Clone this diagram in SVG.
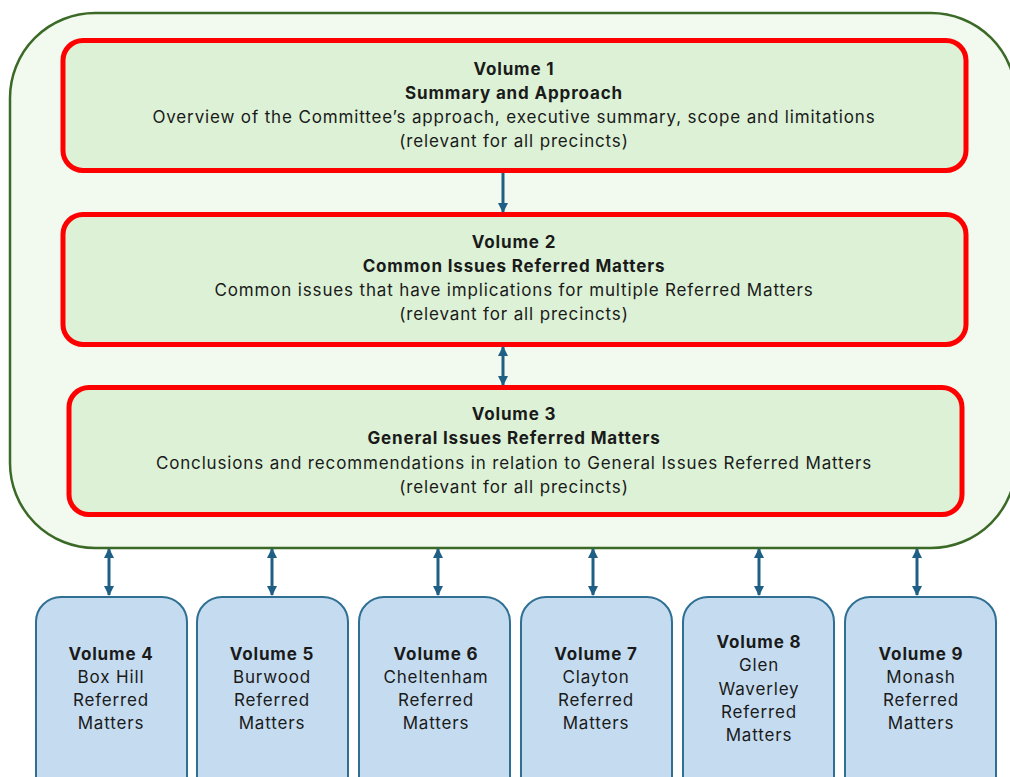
<svg xmlns="http://www.w3.org/2000/svg" width="1010" height="777" viewBox="0 0 1010 777">
<defs>
<style>
.outer{fill:#f2f9ee;stroke:#3b6a27;stroke-width:2.5}
.vol{fill:#dcf1d6;stroke:#ff0000;stroke-width:5}
.sub{fill:#c5dcf0;stroke:#2e6f93;stroke-width:2}
.t{font-family:Inter,"Liberation Sans",sans-serif;font-size:17px;letter-spacing:0.85px;fill:#1a1a1a;text-anchor:middle}
.b{font-weight:bold}
.c{stroke:#1f5f85;stroke-width:3;fill:none}
</style>
<marker id="ah" viewBox="0 0 10 10" refX="9" refY="5" markerWidth="10" markerHeight="10" markerUnits="userSpaceOnUse" orient="auto-start-reverse">
<path d="M0,0 L10,5 L0,10 z" fill="#1f5f85"/>
</marker>
</defs>
<g id="container">
<rect class="outer" x="10" y="13" width="1006" height="535" rx="85" ry="85"/>
</g>
<g id="vol1">
<rect class="vol" x="63" y="40.5" width="903" height="130" rx="20"/>
<text class="t b" x="514" y="75">Volume 1</text>
<text class="t b" x="514" y="99">Summary and Approach</text>
<text class="t" x="514" y="123">Overview of the Committee’s approach, executive summary, scope and limitations</text>
<text class="t" x="514" y="147">(relevant for all precincts)</text>
</g>
<g id="vol2">
<rect class="vol" x="63" y="214.5" width="903" height="130" rx="20"/>
<text class="t b" x="514" y="248">Volume 2</text>
<text class="t b" x="514" y="272">Common Issues Referred Matters</text>
<text class="t" x="514" y="296">Common issues that have implications for multiple Referred Matters</text>
<text class="t" x="514" y="320">(relevant for all precincts)</text>
</g>
<g id="vol3">
<rect class="vol" x="69" y="387.5" width="893" height="127" rx="20"/>
<text class="t b" x="514" y="420">Volume 3</text>
<text class="t b" x="514" y="444">General Issues Referred Matters</text>
<text class="t" x="514" y="469">Conclusions and recommendations in relation to General Issues Referred Matters</text>
<text class="t" x="514" y="493">(relevant for all precincts)</text>
</g>
<g id="vol4">
<rect class="sub" x="36" y="597" width="151" height="220" rx="25"/>
<text class="t b" x="111" y="660">Volume 4</text>
<text class="t" x="111" y="683">Box Hill</text>
<text class="t" x="111" y="706">Referred</text>
<text class="t" x="111" y="729">Matters</text>
</g>
<g id="vol5">
<rect class="sub" x="197" y="597" width="151" height="220" rx="25"/>
<text class="t b" x="272" y="660">Volume 5</text>
<text class="t" x="272" y="683">Burwood</text>
<text class="t" x="272" y="706">Referred</text>
<text class="t" x="272" y="729">Matters</text>
</g>
<g id="vol6">
<rect class="sub" x="359" y="597" width="151" height="220" rx="25"/>
<text class="t b" x="436" y="660">Volume 6</text>
<text class="t" x="436" y="683">Cheltenham</text>
<text class="t" x="436" y="706">Referred</text>
<text class="t" x="436" y="729">Matters</text>
</g>
<g id="vol7">
<rect class="sub" x="521" y="597" width="151" height="220" rx="25"/>
<text class="t b" x="596" y="660">Volume 7</text>
<text class="t" x="596" y="683">Clayton</text>
<text class="t" x="596" y="706">Referred</text>
<text class="t" x="596" y="729">Matters</text>
</g>
<g id="vol8">
<rect class="sub" x="683" y="597" width="151" height="220" rx="25"/>
<text class="t b" x="759" y="648">Volume 8</text>
<text class="t" x="759" y="671">Glen</text>
<text class="t" x="759" y="695">Waverley</text>
<text class="t" x="759" y="718">Referred</text>
<text class="t" x="759" y="741">Matters</text>
</g>
<g id="vol9">
<rect class="sub" x="845" y="597" width="151" height="220" rx="25"/>
<text class="t b" x="921" y="660">Volume 9</text>
<text class="t" x="921" y="683">Monash</text>
<text class="t" x="921" y="706">Referred</text>
<text class="t" x="921" y="729">Matters</text>
</g>
<g id="connectors">
<line class="c" x1="503" y1="173" x2="503" y2="212" marker-end="url(#ah)"/>
<line class="c" x1="503" y1="347" x2="503" y2="385" marker-start="url(#ah)" marker-end="url(#ah)"/>
<line class="c" x1="109" y1="549" x2="109" y2="595" marker-start="url(#ah)" marker-end="url(#ah)"/>
<line class="c" x1="272" y1="549" x2="272" y2="595" marker-start="url(#ah)" marker-end="url(#ah)"/>
<line class="c" x1="438" y1="549" x2="438" y2="595" marker-start="url(#ah)" marker-end="url(#ah)"/>
<line class="c" x1="593" y1="549" x2="593" y2="595" marker-start="url(#ah)" marker-end="url(#ah)"/>
<line class="c" x1="759" y1="549" x2="759" y2="595" marker-start="url(#ah)" marker-end="url(#ah)"/>
<line class="c" x1="917" y1="549" x2="917" y2="595" marker-start="url(#ah)" marker-end="url(#ah)"/>
</g>
</svg>
